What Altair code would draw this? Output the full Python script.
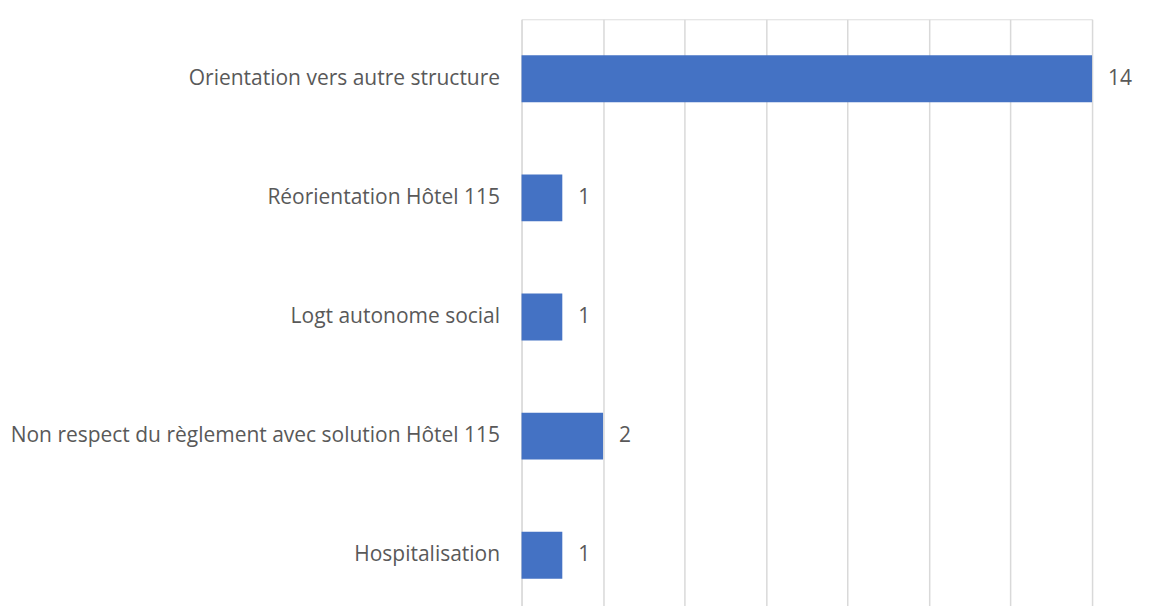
import altair as alt
import pandas as pd

categories = [
    "Orientation vers autre structure",
    "Réorientation Hôtel 115",
    "Logt autonome social",
    "Non respect du règlement avec solution Hôtel 115",
    "Hospitalisation",
]
values = [14, 1, 1, 2, 1]
x_ticks = [0, 2, 4, 6, 8, 10, 12, 14]

df = pd.DataFrame({"cat": categories, "val": values})

FONT = "Open Sans"
TEXT = "#595959"
FS = 21

y_enc = alt.Y(
    "cat:N",
    sort=categories,
    scale=alt.Scale(paddingInner=0.606, paddingOuter=0.303),
    axis=alt.Axis(
        title=None, domain=False, ticks=False, labelPadding=22,
        labelFont=FONT, labelFontSize=FS, labelColor=TEXT, labelLimit=1000,
    ),
)
x_enc = alt.X(
    "val:Q",
    scale=alt.Scale(domain=[0, 14], nice=False),
    axis=alt.Axis(
        title=None, values=x_ticks, labels=False, ticks=False, domain=False,
        grid=True, gridColor="#d9d9d9", gridWidth=1.5,
    ),
)

bars = alt.Chart(df).mark_bar(color="#4472C4").encode(x=x_enc, y=y_enc)
labels = alt.Chart(df).mark_text(
    align="left", baseline="middle", dx=16, font=FONT, fontSize=FS, color=TEXT
).encode(x="val:Q", y=alt.Y("cat:N", sort=categories), text="val:Q")

chart = (bars + labels).properties(
    width=571, height=596,
    autosize=alt.AutoSizeParams(type="none"),
    padding={"left": 514, "top": 11, "right": 60, "bottom": 0},
).configure_view(stroke=None).configure(background="white")

chart.save("out.html", embed_options={"renderer": "svg", "actions": False})
